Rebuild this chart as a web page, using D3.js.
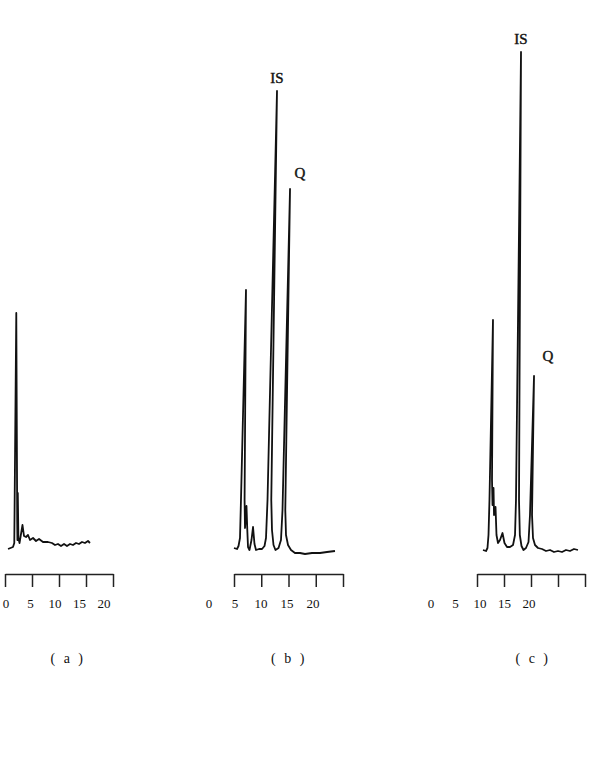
<!DOCTYPE html>
<html lang="en">
<head>
  <meta charset="UTF-8" />
  <title>Chromatograms a, b, c</title>
  <script src="https://d3js.org/d3.v7.min.js"></script>
  <style>
    body { margin: 0; background: #fff; }
    svg { display: block; font-family: "Liberation Serif", "DejaVu Serif", serif; }
    .trace { fill: none; stroke: #111; stroke-width: 1.8px; stroke-linejoin: round; }
    .axis path, .axis line { stroke: #222; stroke-width: 1.5px; }
    .ticklabel { font-size: 13px; fill: #111; }
    .caption { font-size: 14px; fill: #111; letter-spacing: 2.5px; }
    .peak { font-size: 15px; fill: #111; stroke: #111; stroke-width: 0.4px; }
  </style>
</head>
<body>
<svg width="590" height="772"></svg>
<script>
// retention time (min) / detector response (arbitrary units)
const traceA = [
  [0.56, 0.2], [1.48, 0.6], [1.72, 1.4], [2.09, 47.4], [2.26, 6.0], [2.30, 2.0],
  [2.37, 11.4], [2.48, 2.4], [2.69, 1.4], [3.24, 5.0], [3.52, 2.8], [3.89, 2.6],
  [4.26, 3.0], [4.63, 2.0], [5.19, 2.4], [5.74, 1.8], [6.30, 2.2], [7.04, 1.6],
  [7.96, 1.6], [8.70, 1.4], [9.26, 1.0], [9.81, 1.2], [10.37, 0.8], [10.93, 1.2],
  [11.48, 0.8], [12.04, 1.2], [12.59, 1.0], [13.15, 1.4], [13.70, 1.2], [14.26, 1.6],
  [14.81, 1.4], [15.37, 1.8], [15.74, 1.4]
];
const traceB = [
  [0.00, 0.4], [0.55, 0.2], [0.83, 0.8], [1.10, 2.4], [1.28, 10.0], [2.20, 52.0],
  [1.94, 10.0], [2.02, 4.4], [2.29, 8.8], [2.44, 4.0], [2.57, 0.6], [2.84, 0.0],
  [3.21, 2.0], [3.49, 4.6], [3.76, 1.2], [4.04, 0.0], [4.59, 0.2], [5.14, 0.2],
  [5.60, 0.8], [5.87, 2.4], [6.15, 10.0], [7.89, 91.8], [6.84, 10.0], [6.97, 4.0],
  [7.25, 1.0], [7.61, 0.0], [8.17, 0.4], [8.62, 2.0], [8.90, 8.0], [10.28, 72.2],
  [9.41, 8.0], [9.54, 3.0], [9.91, 1.0], [10.46, 0.0], [11.19, -0.6], [12.11, -0.6],
  [13.03, -0.8], [14.31, -0.6], [15.78, -0.6], [17.06, -0.4], [18.53, -0.2]
];
const traceC = [
  [1.11, 0.0], [1.67, -0.2], [1.94, 0.4], [2.13, 3.0], [2.31, 10.0], [2.96, 46.0],
  [2.78, 14.0], [2.87, 9.0], [3.06, 12.4], [3.15, 7.0], [3.43, 8.6], [3.61, 3.0],
  [3.89, 1.4], [4.26, 2.0], [4.72, 3.4], [5.09, 1.4], [5.56, 0.6], [6.11, 0.6],
  [6.67, 1.0], [7.04, 3.0], [7.22, 10.0], [8.15, 99.6], [7.78, 10.0], [7.93, 3.0],
  [8.24, 0.8], [8.61, 0.0], [9.07, 0.4], [9.54, 1.6], [9.81, 7.0], [10.56, 34.8],
  [10.19, 7.0], [10.37, 2.4], [10.74, 1.0], [11.30, 0.4], [12.04, 0.2], [12.78, -0.2],
  [13.52, 0.0], [14.26, -0.4], [15.00, -0.2], [15.74, -0.4], [16.48, 0.0], [17.22, -0.2],
  [17.96, 0.2], [18.70, 0.0]
];

const tickValues = [0, 5, 10, 15, 20];
const tickLabels = ["0", "5", "10", "15", "20"];
const captions = ["( a )", "( b )", "( c )"];

// peak annotations: panel index, text, apex time, apex response
const peakLabels = [
  { panel: 1, text: "IS", t: 7.89, v: 91.8 },
  { panel: 1, text: "Q", t: 10.28, v: 72.2 },
  { panel: 2, text: "IS", t: 8.15, v: 99.6 },
  { panel: 2, text: "Q", t: 10.56, v: 34.8 }
];

const svg = d3.select("svg");

const y = d3.scaleLinear().domain([0, 100]).range([550, 50]);

const panels = [
  { trace: traceA, axis: [5, 113], labels: [6, 104], caption: 67 },
  { trace: traceB, axis: [234, 343], labels: [209, 313], caption: 288 },
  { trace: traceC, axis: [477, 585], labels: [431, 529], caption: 532 }
];
const labelOffsets = { IS: [0, -13], Q: [10, -16] };

const line = d3.line();

panels.forEach((p, i) => {
  const x = d3.scaleLinear().domain([0, 20]).range(p.axis);
  const xl = d3.scaleLinear().domain([0, 20]).range(p.labels);
  const g = svg.append("g");

  g.append("path")
    .attr("class", "trace")
    .attr("d", line.x(d => x(d[0])).y(d => y(d[1]))(p.trace));

  g.append("g")
    .attr("class", "axis")
    .attr("transform", "translate(0,574)")
    .call(d3.axisBottom(x).tickValues(tickValues).tickSize(13).tickSizeOuter(0).tickFormat(""));

  g.selectAll(".ticklabel")
    .data(tickValues)
    .join("text")
    .attr("class", "ticklabel")
    .attr("x", d => xl(d))
    .attr("y", 608)
    .attr("text-anchor", "middle")
    .text((d, j) => tickLabels[j]);

  g.append("text")
    .attr("class", "caption")
    .attr("x", p.caption + 1)
    .attr("y", 663)
    .attr("text-anchor", "middle")
    .text(captions[i]);

  g.selectAll(".peak")
    .data(peakLabels.filter(d => d.panel === i))
    .join("text")
    .attr("class", "peak")
    .attr("x", d => x(d.t) + labelOffsets[d.text][0] + (i === 2 && d.text === "Q" ? 4 : 0))
    .attr("y", d => y(d.v) + labelOffsets[d.text][1] + (i === 2 && d.text === "Q" ? -4 : 0))
    .attr("text-anchor", "middle")
    .attr("dominant-baseline", "central")
    .text(d => d.text);
});
</script>
</body>
</html>
